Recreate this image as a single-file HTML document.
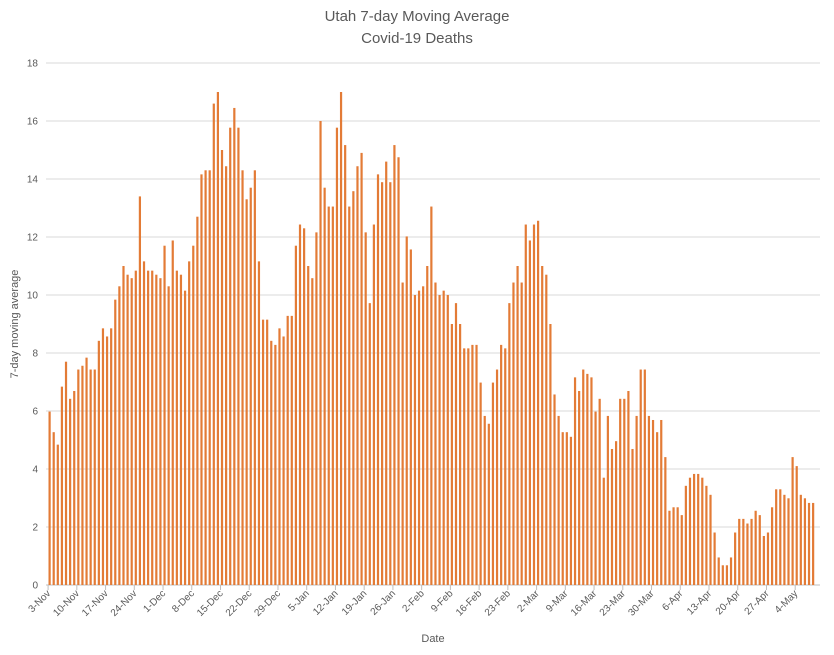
<!DOCTYPE html>
<html><head><meta charset="utf-8"><style>
html,body{margin:0;padding:0;background:#fff;}
svg{display:block;font-family:"Liberation Sans",sans-serif;}
</style></head><body>
<svg id="chart" width="834" height="655" viewBox="0 0 834 655">
<text x="417" y="21" text-anchor="middle" font-size="15" fill="#595959">Utah 7-day Moving Average</text>
<text x="417" y="43" text-anchor="middle" font-size="15" fill="#595959">Covid-19 Deaths</text>
<text transform="translate(18,324) rotate(-90)" text-anchor="middle" font-size="11" fill="#595959">7-day moving average</text>
<text x="433" y="642" text-anchor="middle" font-size="11" fill="#595959">Date</text>
<g id="grid"></g><g id="bars"></g><g id="xaxis"></g>
</svg>
<script>
const startDate = [2020, 10, 3];
const yTicks = [0,2,4,6,8,10,12,14,16,18];
const monthNames = ["Jan","Feb","Mar","Apr","May","Jun","Jul","Aug","Sep","Oct","Nov","Dec"];
const values = [
5.98,5.27,4.84,6.84,7.7,6.42,6.69,7.43,7.56,7.84,7.43,7.43,8.42,8.85,8.57,8.85,9.84,10.3,11.0,10.7,10.58,10.84,13.4,11.16,10.84,10.84,10.7,10.58,11.7,10.3,11.88,10.84,10.7,10.15,11.16,11.7,12.7,14.16,14.3,14.3,16.6,17.0,15.0,14.44,15.77,16.45,15.77,
14.3,13.3,13.7,14.3,11.16,9.15,9.15,8.42,8.28,8.85,8.57,9.28,9.28,11.7,12.43,12.3,11.0,10.58,12.16,16.0,13.7,13.05,13.05,15.77,17.0,15.17,13.05,13.58,14.44,14.9,12.16,9.72,12.43,14.16,13.89,14.6,13.89,15.17,14.75,10.43,12.02,11.57,10.0,10.15,10.3,11.0,
13.05,10.43,10.0,10.15,10.0,9.0,9.72,9.0,8.16,8.16,8.28,8.28,6.98,5.83,5.56,6.98,7.43,8.28,8.16,9.72,10.43,11.0,10.43,12.43,11.88,12.43,12.56,11.0,10.7,9.0,6.57,5.83,5.27,5.27,5.11,7.16,6.69,7.43,7.28,7.16,5.98,6.42,3.7,5.83,4.69,4.96,
6.42,6.42,6.69,4.69,5.83,7.43,7.43,5.83,5.69,5.27,5.69,4.41,2.56,2.68,2.68,2.41,3.42,3.7,3.83,3.83,3.7,3.42,3.11,1.81,0.95,0.68,0.68,0.95,1.81,2.28,2.28,2.12,2.28,2.56,2.41,1.69,1.81,2.68,3.3,3.3,3.11,2.99,4.41,4.1,3.11,2.99,2.83,2.83
];
const NS="http://www.w3.org/2000/svg";
const y0=585, pxPerUnit=29, x0=49.6, step=4.105;
function yScale(v){return y0 - v*pxPerUnit;}
function xScale(i){return x0 + i*step;}
const grid=document.getElementById('grid');
yTicks.forEach(t=>{
  const l=document.createElementNS(NS,'line');
  
  
  l.setAttribute('x1',46);l.setAttribute('x2',820);
  l.setAttribute('y1',yScale(t));l.setAttribute('y2',yScale(t));
  l.setAttribute('stroke',t===0?'#bfbfbf':'#d9d9d9');l.setAttribute('stroke-width',1);
  grid.appendChild(l);
  const tx=document.createElementNS(NS,'text');
  
  
  tx.setAttribute('x',38);tx.setAttribute('y',yScale(t)+3.5);
  tx.setAttribute('text-anchor','end');tx.setAttribute('font-size','10');tx.setAttribute('fill','#595959');
  tx.textContent=t;grid.appendChild(tx);
});
const bars=document.getElementById('bars');
values.forEach((v,i)=>{
  const r=document.createElementNS(NS,'rect');
  
  
  r.setAttribute('x',xScale(i)-1.1);r.setAttribute('width',2.2);
  r.setAttribute('y',yScale(v));r.setAttribute('height',y0-yScale(v));
  r.setAttribute('fill','#e37b36');
  bars.appendChild(r);
});
const xa=document.getElementById('xaxis');
for(let i=0;i<values.length;i+=7){
  const d=new Date(startDate[0],startDate[1],startDate[2]+i);
  const lbl=d.getDate()+'-'+monthNames[d.getMonth()];
  const tx=xScale(i)-1.5;
  const tk=document.createElementNS(NS,'line');
  
  
  tk.setAttribute('x1',tx);tk.setAttribute('x2',tx);tk.setAttribute('y1',585);tk.setAttribute('y2',590);
  tk.setAttribute('stroke','#bfbfbf');xa.appendChild(tk);
  const t=document.createElementNS(NS,'text');
  
  
  t.setAttribute('transform','translate('+(tx+3)+',594) rotate(-45)');
  t.setAttribute('text-anchor','end');t.setAttribute('font-size','10');t.setAttribute('fill','#595959');
  t.textContent=lbl;xa.appendChild(t);
}
</script>
</body></html>
